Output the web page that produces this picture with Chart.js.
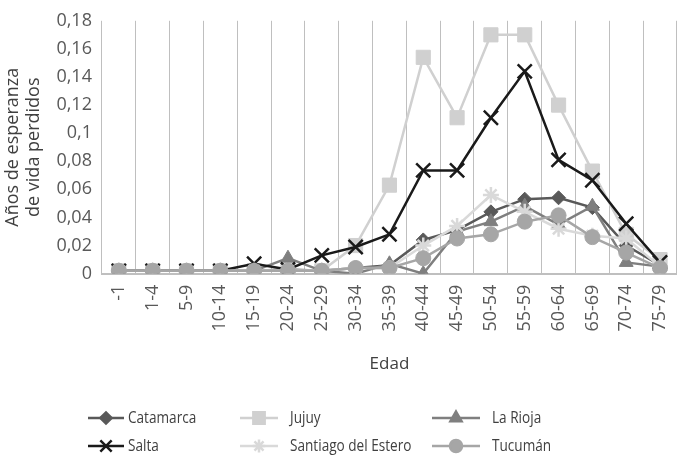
<!DOCTYPE html>
<html>
<head>
<meta charset="utf-8">
<script src="https://cdn.jsdelivr.net/npm/chart.js@4/dist/chart.umd.min.js"></script>
<style>
  html, body { margin: 0; padding: 0; background: #fff; }
  #wrap { width: 693px; height: 456px; position: relative; }
</style>
</head>
<body>
<div id="wrap"><canvas id="chart1"></canvas></div>
<script>
// datos
let edades = ['-1','1-4','5-9','10-14','15-19','20-24','25-29','30-34','35-39','40-44','45-49','50-54','55-59','60-64','65-69','70-74','75-79']
let catamarca = [0.002,0.002,0.002,0.002,0.002,0.003,0.002,0.004,0.006,0.024,0.031,0.044,0.053,0.054,0.047,0.02,0.006]
let jujuy = [0.002,0.002,0.002,0.002,0.002,0.002,0.002,0.02,0.063,0.154,0.111,0.17,0.17,0.12,0.073,0.028,0.01]
let laRioja = [0.002,0.002,0.002,0.002,0.002,0.011,0.002,0.0,0.007,0.0,0.03,0.037,0.048,0.035,0.048,0.008,0.005]
let salta = [0.002,0.002,0.002,0.002,0.007,0.003,0.013,0.019,0.028,0.0735,0.0735,0.111,0.144,0.081,0.0665,0.0355,0.008]
let santiago = [0.002,0.002,0.002,0.002,0.002,0.002,0.002,0.004,0.004,0.02,0.034,0.056,0.044,0.032,0.027,0.025,0.005]
let tucuman = [0.002,0.002,0.002,0.002,0.002,0.002,0.002,0.004,0.004,0.011,0.025,0.028,0.037,0.0415,0.026,0.015,0.004]
let yTicks = [0,0.02,0.04,0.06,0.08,0.1,0.12,0.14,0.16,0.18]

function serie(label, data, color, style, radius, order, extra){
    return Object.assign({
        label: label,
        data: data,
        borderColor: color,
        backgroundColor: color,
        pointBackgroundColor: color,
        pointBorderColor: color,
        pointStyle: style,
        pointRadius: radius,
        pointHoverRadius: radius,
        borderWidth: 2.5,
        pointBorderWidth: 1,
        tension: 0,
        order: order,
    }, extra || {})
}

// leyenda dibujada a mano (3 columnas x 2 filas)
let legendPlugin = {
    id: 'leyenda',
    afterDraw(chart){
        let ctx = chart.ctx
        let cols = [88, 240, 432]
        let rows = [418, 446]
        chart.data.datasets.forEach(function(ds, i){
            let x = cols[i % 3], y = rows[Math.floor(i / 3)]
            let len = i % 3 == 0 ? 36 : (i % 3 == 1 ? 38 : 48)
            ctx.save()
            ctx.strokeStyle = ds.borderColor
            ctx.fillStyle = ds.borderColor
            ctx.lineWidth = 2.5
            ctx.beginPath()
            ctx.moveTo(x, y)
            ctx.lineTo(x + len, y)
            ctx.stroke()
            Chart.helpers.drawPoint(ctx, {
                pointStyle: ds.pointStyle,
                radius: ds.pointRadius * 0.8,
                borderWidth: ds.pointBorderWidth
            }, x + len / 2, y)
            ctx.restore()
            ctx.save()
            ctx.fillStyle = '#404040'
            ctx.font = '17px "Open Sans", sans-serif'
            ctx.textBaseline = 'middle'
            ctx.translate(x + len + (i % 3 == 0 ? 4 : 12), y)
            ctx.scale(0.8, 1)
            ctx.fillText(ds.label, 0, 0)
            ctx.restore()
        })
    },
}

let chart1 = document.getElementById('chart1').getContext('2d')

let edadChart = new Chart(chart1, {
    type: 'line',
    data: {
        labels: edades,
        datasets: [
            serie('Catamarca', catamarca, '#595959', 'rectRot', 7, 5),
            serie('Jujuy', jujuy, '#d0d0d0', 'rect', 10, 4),
            serie('La Rioja', laRioja, '#7f7f7f', 'triangle', 8, 3),
            serie('Salta', salta, '#1a1a1a', 'crossRot', 10, 2, {pointBorderWidth: 2.5}),
            serie('Santiago del Estero', santiago, '#d9d9d9', 'star', 8, 1, {pointBorderWidth: 2.5}),
            serie('Tucumán', tucuman, '#a6a6a6', 'circle', 7.5, 0),
        ]
    },
    options: {
        responsive: true,
        maintainAspectRatio: false,
        animation: false,
        layout: { padding: { top: 1, right: -3, bottom: 82, left: 3 } },
        plugins: {
            legend: { display: false },
            tooltip: { enabled: false },
        },
        scales: {
            x: {
                offset: true,
                grid: { display: true, offset: true, color: '#bfbfbf', lineWidth: 1, drawTicks: false },
                border: { display: true, color: '#bfbfbf', width: 2 },
                ticks: {
                    minRotation: 90, maxRotation: 90, padding: 11,
                    color: '#595959',
                    font: { family: '"Open Sans", sans-serif', size: 18 },
                },
                title: {
                    display: true, text: 'Edad', color: '#404040',
                    font: { family: '"Open Sans", sans-serif', size: 17 },
                    padding: { top: 11, bottom: 0 },
                },
            },
            y: {
                min: 0, max: 0.18,
                afterBuildTicks(axis){ axis.ticks = yTicks.map(v => ({ value: v })) },
                grid: { display: false, drawTicks: false },
                border: { display: false },
                ticks: {
                    padding: 10,
                    color: '#595959',
                    font: { family: '"Open Sans", sans-serif', size: 18 },
                    callback: v => String(Math.round(v * 100) / 100).replace('.', ','),
                },
                title: {
                    display: true, text: ['Años de esperanza', 'de vida perdidos'], color: '#404040',
                    font: { family: '"Open Sans", sans-serif', size: 18, lineHeight: 1.15 },
                    padding: { top: 0, bottom: 2 },
                },
            },
        },
    },
    plugins: [legendPlugin],
});
</script>
</body>
</html>
